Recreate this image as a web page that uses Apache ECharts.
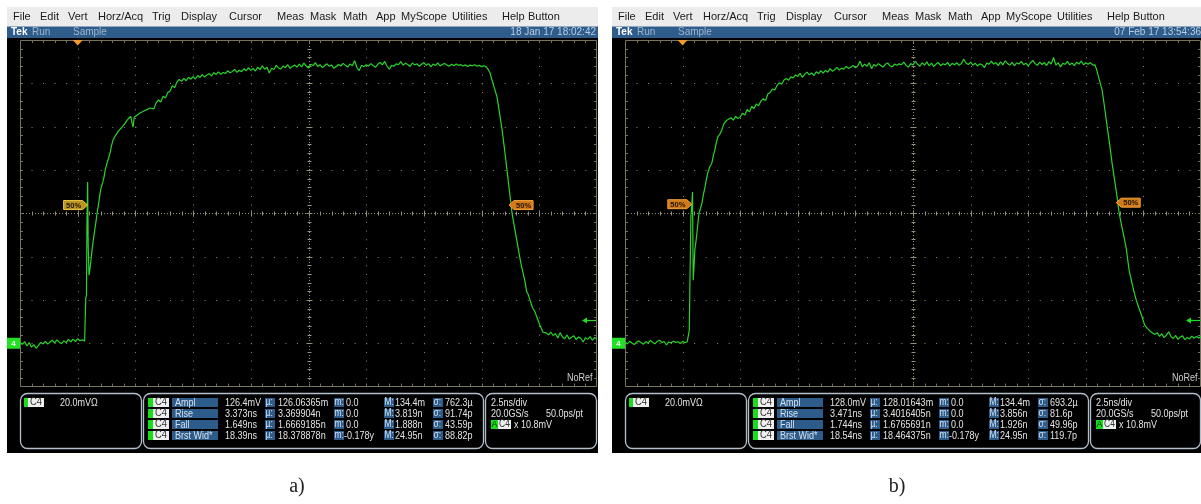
<!DOCTYPE html>
<html><head><meta charset="utf-8">
<script src="https://cdn.jsdelivr.net/npm/echarts@6/dist/echarts.min.js"></script>
<style>html,body{margin:0;padding:0;background:#fff;}#c{width:1201px;height:504px;}</style>
</head><body><div id="c"></div><script>
// ---- scope settings (2.5 ns/div, 20 mV/div, ground at -3 div) ----
const X_MIN = -2.5, X_MAX = 22.5, X_INT = 2.5;   // ns
const Y_MIN = -20, Y_MAX = 140, Y_INT = 20;      // mV
const TRIG_TIME = 0, TRIG_LEVEL = 10.8, GROUND = 0;
const SAMPLE_STEP = 0.1; // ns between listed samples in the flat segments

// ---- panel a) trace (mV) ----
const preA = [0.2,-0.5,0.8,-1.2,0.3,-1.8,-0.6,-2.3,-1.0,0.4,
  -0.3,0.9,-0.4,0.6,1.4,0.2,1.6,0.5,-0.2,1.1,
  0.3,1.8,0.7,1.9,0.8,2.1,1.2,1.6,1.0];                     // from -2.5 ns
const riseA = [[0.33,1.2],[0.35,21],[0.38,22],[0.40,53.6],[0.43,74.4],[0.455,45],[0.49,31.4],[0.52,33.5],[0.57,38],[0.62,43],
  [0.68,48],[0.74,52.5],[0.79,56],[0.84,60],[0.90,64],[0.97,69.3],[1.03,72.5],[1.08,74],[1.14,76.7],[1.20,80.5],
  [1.27,83.2],[1.33,85.2],[1.40,87.8],[1.46,91],[1.53,93.8],[1.60,95.2],[1.68,96.1],[1.75,97.8],[1.83,98.4],[1.90,99.5],
  [1.98,100.2],[2.06,101.6],[2.14,103],[2.22,103.5],[2.30,104.8],[2.36,101.5],[2.40,99.8],[2.45,104.4],[2.52,103.9],[2.60,105.5],
  [2.70,106.3],[2.78,105.6],[2.87,107.2],[2.95,106.8],[3.04,108.1],[3.13,108.6]];
const midA = [109.5,108.2,111.0,112.3,111.4,114.1,113.2,115.8,116.4,118.9,
  118.0,120.6,121.8,120.9,122.3,121.2,122.8,121.9,123.1,122.0,
  123.6,122.7,124.0,122.9,123.8,124.5,123.4,124.9,124.1,125.3,
  124.2,125.0,124.6,125.8,124.9,125.5,126.4,125.1,126.0,125.4,
  126.7,125.8,127.2,126.0,126.9,125.7,127.5,126.3,128.1,126.5,
  127.4,124.8,127.0,126.4,128.3,127.1,126.6,128.0,127.2,128.6,
  126.9,127.8,128.4,127.5];                                    // from 3.2 ns
const topA = [128.9,127.6,129.3,128.0,127.1,128.8,128.2,129.5,127.8,128.6,
  127.3,128.1,129.0,127.9,128.5,126.9,127.8,128.7,128.0,129.2,
  128.3,127.5,128.9,128.1,130.4,127.2,125.9,128.4,127.7,128.6,
  127.9,129.1,128.2,127.4,128.8,129.6,128.5,130.1,128.0,126.5,
  128.3,127.9,129.0,128.6,130.0,128.4,129.3,128.7,127.8,129.4,
  128.5,129.0,127.9,128.8,129.6,128.3,129.1,127.6,128.9,128.2,
  129.4,128.0,128.7,129.2,128.4,127.9,128.8,128.1,128.9,128.3,
  128.6,128.0,128.5,127.8,128.4,128.1,128.6,127.9,128.3,127.7,
  128.1];                                                      // from 9.6 ns
const fallA = [[17.7,127.6],[17.8,126.2],[17.87,124.7],[17.95,121.5],[18.05,118],[18.17,113.6],[18.28,106],[18.39,98.4],[18.5,89],[18.6,79.9],
  [18.71,70],[18.82,60],[18.95,52],[19.08,44.3],[19.2,37],[19.3,32.3],[19.38,28.5],[19.45,24.0],[19.52,22.5],[19.6,19.9],
  [19.7,16.5],[19.8,14.8],[19.9,12.0],[20.0,9.0],[20.08,7.1],[20.16,5.1],[20.22,4.6]];
const postA = [4.8,3.9,5.1,3.6,4.4,2.4,4.9,3.0,2.1,3.8,
  1.9,2.8,3.5,1.7,2.9,2.2,0.6,2.6,1.8,3.1,
  1.4,2.7,2.0];                                                // from 20.3 ns

// ---- panel b) trace (mV) ----
const preB = [0.6,-0.3,0.9,0.1,-0.6,0.5,1.1,0.2,-0.4,0.8,
  0.0,1.3,0.4,-0.2,0.9,1.4,0.3,0.8,-0.8,0.6,
  0.2,1.0,0.4,0.7,-0.1,0.9,0.3,0.6];                          // from -2.5 ns
const riseB = [[0.25,0.4],[0.29,6.0],[0.32,29.1],[0.36,58.2],[0.40,64],[0.43,69.8],[0.46,29.1],[0.50,36],[0.53,43],[0.58,47],
  [0.62,50.8],[0.66,55],[0.71,60],[0.77,62],[0.84,64.7],[0.90,68.5],[0.97,72],[1.03,75.5],[1.10,79],[1.18,81.5],
  [1.27,83.2],[1.33,86.5],[1.40,89.2],[1.46,92.5],[1.53,95.2],[1.62,96.6],[1.70,98.4],[1.80,101.5],[1.92,103]];
const midB = [102.6,104.1,103.0,104.8,103.7,104.5,106.2,105.4,107.9,106.8,
  109.3,108.4,110.5,109.6,111.8,112.9,112.0,115.1,115.8,117.4,
  116.9,119.0,120.3,119.6,121.5,122.2,121.4,123.0,122.5,123.9,
  123.2,124.6,122.8,124.1,125.2,123.9,124.8,123.6,125.3,124.5,
  125.9,124.7,126.0,125.1,126.8,125.6,126.3,127.4,126.1,127.0,
  126.5,127.8,126.9,127.4,128.3,127.2,128.0,130.2,127.6,128.9,
  127.8,129.5,126.8,128.7,127.9,129.1,128.2,127.5,128.8,129.4,
  128.1,127.6,128.9,128.3,129.0];                              // from 2.0 ns
const topB = [128.6,129.8,128.3,127.4,129.1,128.5,130.2,128.8,127.9,129.5,
  128.4,129.9,128.1,129.3,127.7,128.9,129.6,128.2,129.0,128.5,
  129.7,128.0,129.2,128.6,129.5,128.3,129.1,131.2,129.4,128.7,
  129.8,128.4,129.3,128.0,129.0,128.6,127.2,129.4,128.8,130.3,
  128.9,129.6,128.2,129.9,128.5,130.4,129.2,128.4,129.7,128.1,
  129.5,128.9,130.1,128.6,129.3,128.0,129.4,130.6,129.1,128.3,
  129.8,128.7,129.6,128.2,130.0,128.9,131.9,128.4,129.5,127.6,
  129.2,128.8,130.1,128.5,129.4,128.2,129.7,128.9,130.3,128.6,
  129.5,128.8,129.6,128.4];                                    // from 9.5 ns
const fallB = [[17.9,128.5],[17.98,126.0],[18.08,121.9],[18.21,116.9],[18.32,108.5],[18.43,99.8],[18.54,91.5],[18.64,83.2],[18.75,75.3],[18.86,67.5],
  [18.95,60],[19.1,52],[19.25,44.3],[19.38,33.7],[19.5,28.0],[19.6,23.5],[19.69,19.9],[19.8,16.4],[19.95,12.0],[20.05,8.5],
  [20.17,6.9],[20.25,7.6],[20.33,5.2]];
const postB = [5.8,4.1,4.9,3.2,4.4,2.6,3.8,5.3,3.0,2.2,
  3.6,1.8,2.9,3.4,1.6,2.7,2.0,3.3,2.4,3.1,
  2.5,3.0];                                                    // from 20.4 ns

// ---- 50% reference tags [time ns, level mV, side, colour] ----
const tagsA = [[0.43, 63.8, 'left', 'y'], [18.69, 63.8, 'right', 'o']];
const tagsB = [[0.40, 64.2, 'left', 'o'], [18.82, 64.9, 'right', 'o']];

// ---- texts ----
const MENU = ['File','Edit','Vert','Horz/Acq','Trig','Display','Cursor','Meas','Mask','Math','App','MyScope','Utilities','Help','Button'];
const DATES = ['18 Jan 17 18:02:42', '07 Feb 17 13:54:36'];
const MEAS_NAMES = ['Ampl','Rise','Fall','Brst Wid*'];
const MEAS_A = [
  ['126.4mV','126.06365m','0.0','134.4m','762.3µ'],
  ['3.373ns','3.369904n','0.0','3.819n','91.74p'],
  ['1.649ns','1.6669185n','0.0','1.888n','43.59p'],
  ['18.39ns','18.378878n','-0.178y','24.95n','88.82p']];
const MEAS_B = [
  ['128.0mV','128.01643m','0.0','134.4m','693.2µ'],
  ['3.471ns','3.4016405n','0.0','3.856n','81.6p'],
  ['1.744ns','1.6765691n','0.0','1.926n','49.96p'],
  ['18.54ns','18.464375n','-0.178y','24.95n','119.7p']];
const PANEL_LABELS = ['a)', 'b)'];

function seq(t0, vals) { return vals.map((v, i) => [Math.round((t0 + i * SAMPLE_STEP) * 1000) / 1000, v]); }
const traceA = [].concat(seq(-2.5, preA), riseA, seq(3.2, midA), seq(9.6, topA), fallA, seq(20.3, postA));
const traceB = [].concat(seq(-2.5, preB), riseB, seq(2.0, midB), seq(9.5, topB), fallB, seq(20.4, postB));

const FONT = '"Liberation Sans", Arial, sans-serif';
const GREEN = '#2ad42a';

function graticule(params, api) {
  const tl = api.coord([X_MIN, Y_MAX]), br = api.coord([X_MAX, Y_MIN]);
  const L = tl[0], T = tl[1], R = br[0], B = br[1];
  const nx = Math.round((X_MAX - X_MIN) / X_INT), ny = Math.round((Y_MAX - Y_MIN) / Y_INT);
  const dx = (R - L) / nx, dy = (B - T) / ny;
  const ch = [];
  const px = v => Math.round(v) + 0.5;
  const ln = (x1, y1, x2, y2, stroke, dash) => ch.push({type: 'line', shape: {x1, y1, x2, y2},
    style: {stroke, lineWidth: 1, lineDash: dash || null}});
  const DOT = '#8d8a74', EDGE = '#77735d', AXC = '#94907a';
  const cxI = nx / 2, cyI = ny / 2;
  for (let i = 1; i < nx; i++) { if (i === cxI) continue; const x = px(L + i * dx); ln(x, T, x, B, DOT, [1, dy / 5 - 1]); }
  for (let j = 1; j < ny; j++) { if (j === cyI) continue; const y = px(T + j * dy); ln(L, y, R, y, DOT, [1, dx / 5 - 1]); }
  const cx = px(L + cxI * dx), cy = px(T + cyI * dy);
  ln(cx, T, cx, B, AXC, [1, 2]); ln(L, cy, R, cy, AXC, [1, 2]);
  for (let k = 1; k < nx * 5; k++) {
    const x = px(L + k * dx / 5), len = (k % 5 === 0) ? 3 : 2;
    ln(x, cy - len, x, cy + len, AXC); ln(x, T, x, T + 3, EDGE); ln(x, B - 3, x, B, EDGE);
  }
  for (let k = 1; k < ny * 5; k++) {
    const y = px(T + k * dy / 5), len = (k % 5 === 0) ? 3 : 2;
    ln(cx - len, y, cx + len, y, AXC); ln(L, y, L + 3, y, EDGE); ln(R - 3, y, R, y, EDGE);
  }
  ch.push({type: 'rect', shape: {x: px(L), y: px(T), width: Math.round(R - L) - 1, height: Math.round(B - T) - 1},
    style: {fill: 'none', stroke: EDGE, lineWidth: 1}});
  return {type: 'group', children: ch};
}

function overlay(tags) {
  return function (params, api) {
    const tl = api.coord([X_MIN, Y_MAX]), br = api.coord([X_MAX, Y_MIN]);
    const L = tl[0], T = tl[1], R = br[0];
    const ch = [];
    const tx = api.coord([TRIG_TIME, Y_MAX])[0];
    ch.push({type: 'polygon', shape: {points: [[tx - 5, T], [tx + 5, T], [tx, T + 5.5]]}, style: {fill: '#f29a2e'}});
    const gy = api.coord([X_MIN, GROUND])[1];
    ch.push({type: 'rect', shape: {x: L - 13, y: gy - 5.5, width: 13, height: 11}, style: {fill: '#22e022'}});
    ch.push({type: 'text', style: {text: '4', x: L - 6.5, y: gy + 0.5, fill: '#f4fff4', font: 'bold 8px ' + FONT,
      textAlign: 'center', textVerticalAlign: 'middle', align: 'center', verticalAlign: 'middle'}});
    const ty = Math.round(api.coord([X_MAX, TRIG_LEVEL])[1]) + 0.5;
    ch.push({type: 'line', shape: {x1: R - 12, y1: ty, x2: R - 1, y2: ty}, style: {stroke: '#22dd22', lineWidth: 1.2}});
    ch.push({type: 'polygon', shape: {points: [[R - 15, ty], [R - 10, ty - 3], [R - 10, ty + 3]]}, style: {fill: '#22dd22'}});
    tags.forEach(([t, v, side, col]) => {
      const p = api.coord([t, v]); const x = p[0], y = p[1];
      const pts = side === 'left'
        ? [[x - 24, y - 4.5], [x - 5, y - 4.5], [x, y], [x - 5, y + 4.5], [x - 24, y + 4.5]]
        : [[x, y], [x + 5, y - 4.5], [x + 24, y - 4.5], [x + 24, y + 4.5], [x + 5, y + 4.5]];
      const fill = col === 'y' ? '#b89420' : '#d07a18', stroke = col === 'y' ? '#f0c848' : '#f5a040';
      ch.push({type: 'polygon', shape: {points: pts}, style: {fill, stroke, lineWidth: 1}});
      ch.push({type: 'text', style: {text: '50%', x: side === 'left' ? x - 14 : x + 14.5, y: y + 0.5,
        fill: '#241400', font: 'bold 7.5px ' + FONT, textAlign: 'center', textVerticalAlign: 'middle', align: 'center', verticalAlign: 'middle'}});
    });
    return {type: 'group', children: ch};
  };
}

// text helper; sx = horizontal squeeze (readout uses a narrow font on the scope)
const Tx = (text, x, y, o = {}) => ({type: 'text', z: 20, silent: true, x, y, scaleX: o.sx || 1,
  style: {text, x: 0, y: 0, fill: o.fill || '#e4e4e4', font: o.font || ('10.5px ' + FONT),
    textAlign: o.align || 'left', textVerticalAlign: 'middle'}});
const Rc = (x, y, w, h, fill, o = {}) => ({type: 'rect', z: o.z === undefined ? 15 : o.z, silent: true,
  shape: {x, y, width: w, height: h, r: o.r || 0}, style: {fill, stroke: o.stroke || null, lineWidth: o.lw || 1}});

const RO = {font: '11px ' + FONT, sx: 0.82};
const MENU_X = [13, 40, 68, 98, 152, 181, 229, 277, 310, 343, 376, 401, 452, 502, 528];
function chrome(ox, w, date, meas) {
  const els = [];
  els.push(Rc(ox + 7, 38, w, 415, '#000', {z: -5}));
  els.push(Rc(ox + 7, 7, w, 19.5, '#ececec', {z: -5}));
  els.push(Rc(ox + 7, 26.5, w, 11.5, '#2e5d8b', {z: -5}));
  MENU.forEach((m, i) => els.push(Tx(m, ox + MENU_X[i], 17, {fill: '#1a1a1a', font: '11px ' + FONT})));
  els.push(Tx('Tek', ox + 11, 32.5, {fill: '#ffffff', font: 'bold 10px ' + FONT}));
  els.push(Tx('Run', ox + 32, 32.5, {fill: '#9db4cb', font: '10px ' + FONT}));
  els.push(Tx('Sample', ox + 73, 32.5, {fill: '#9db4cb', font: '10px ' + FONT}));
  els.push(Tx(date, ox + 596, 32.5, {fill: '#b8cce0', font: '10px ' + FONT, align: 'right'}));
  // readout boxes
  const bs = {stroke: '#b4bfcc', lw: 1.3, r: 7, z: 12};
  els.push(Rc(ox + 20.5, 393.5, 121, 55, 'none', bs));
  els.push(Rc(ox + 143.5, 393.5, 340, 55, 'none', bs));
  els.push(Rc(ox + 485.5, 393.5, ox ? 110 : 111, 55, 'none', bs));
  const rows = [402.5, 413.5, 424.5, 435.5];
  // box 1
  els.push(Rc(ox + 24, rows[0] - 4.5, 4, 9, '#18e018'));
  els.push(Rc(ox + 28, rows[0] - 4.5, 16, 9, '#efefef'));
  els.push(Tx('C4', ox + 30, rows[0], {fill: '#333', font: '10.5px ' + FONT, sx: 0.9}));
  els.push(Tx('20.0mVΩ', ox + 60, rows[0], RO));
  // box 2
  const tagX = [[265, 'µ:'], [334, 'm:'], [384, 'M:'], [433, 'σ:']];
  const valX = [225, 278, 346, 395, 445];
  MEAS_NAMES.forEach((nm, r) => {
    const y = rows[r];
    els.push(Rc(ox + 148, y - 4.5, 5, 9, '#18e018'));
    els.push(Rc(ox + 153, y - 4.5, 16, 9, '#efefef'));
    els.push(Tx('C4', ox + 155, y, {fill: '#333', font: '10.5px ' + FONT, sx: 0.9}));
    els.push(Rc(ox + 172, y - 4.5, 46, 9, '#2d5b8a'));
    els.push(Tx(nm, ox + 175, y, {fill: '#d4e0ec', font: RO.font, sx: RO.sx}));
    tagX.forEach(([tx, lab]) => {
      els.push(Rc(ox + tx, y - 4.5, 10, 9, '#2d5b8a'));
      els.push(Tx(lab, ox + tx + 0.5, y, {fill: '#cfe0f2', font: '10px ' + FONT, sx: 0.85}));
    });
    meas[r].forEach((v, k) => {
      let x = valX[k];
      if (k === 2 && v.charAt(0) === '-') x = 344;
      els.push(Tx(v, ox + x, y, RO));
    });
  });
  // box 3
  els.push(Tx('2.5ns/div', ox + 491, rows[0], RO));
  els.push(Tx('20.0GS/s', ox + 491, rows[1], RO));
  els.push(Tx('50.0ps/pt', ox + 546, rows[1], RO));
  els.push(Rc(ox + 491, rows[2] - 4.5, 7, 9, '#18e018'));
  els.push(Tx('A', ox + 491.5, rows[2], {fill: '#0b2a0b', font: '9px ' + FONT}));
  els.push(Rc(ox + 498, rows[2] - 4.5, 13, 9, '#efefef'));
  els.push(Tx('C4', ox + 499, rows[2], {fill: '#333', font: '10px ' + FONT, sx: 0.85}));
  els.push(Tx('x 10.8mV', ox + 514, rows[2], RO));
  els.push(Tx('NoRef', ox + 567, 378, {fill: '#cfcfcf', font: '10px ' + FONT, sx: 0.9}));
  return els;
}

const graphics = [].concat(
  chrome(0, 591, DATES[0], MEAS_A),
  chrome(605, 590, DATES[1], MEAS_B),
  [Tx(PANEL_LABELS[0], 297, 487, {fill: '#222', font: '20px "Liberation Serif", serif', align: 'center'}),
   Tx(PANEL_LABELS[1], 897, 487, {fill: '#222', font: '20px "Liberation Serif", serif', align: 'center'})]
);

const chart = echarts.init(document.getElementById('c'), null, {renderer: 'canvas'});
const axisBase = {type: 'value', show: false};
chart.setOption({
  animation: false,
  backgroundColor: '#ffffff',
  grid: [
    {left: 20, top: 40, width: 577, height: 346.6},
    {left: 625, top: 40, width: 577, height: 346.6}
  ],
  xAxis: [0, 1].map(i => Object.assign({}, axisBase, {gridIndex: i, min: X_MIN, max: X_MAX, interval: X_INT})),
  yAxis: [0, 1].map(i => Object.assign({}, axisBase, {gridIndex: i, min: Y_MIN, max: Y_MAX, interval: Y_INT})),
  graphic: {elements: graphics},
  series: [
    {type: 'custom', xAxisIndex: 0, yAxisIndex: 0, data: [[0, 0]], renderItem: graticule, silent: true, z: 1, clip: false},
    {type: 'custom', xAxisIndex: 1, yAxisIndex: 1, data: [[0, 0]], renderItem: graticule, silent: true, z: 1, clip: false},
    {type: 'line', xAxisIndex: 0, yAxisIndex: 0, data: traceA, showSymbol: false, symbol: 'none', z: 3, clip: true,
      lineStyle: {color: GREEN, width: 1.2}},
    {type: 'line', xAxisIndex: 1, yAxisIndex: 1, data: traceB, showSymbol: false, symbol: 'none', z: 3, clip: true,
      lineStyle: {color: GREEN, width: 1.2}},
    {type: 'custom', xAxisIndex: 0, yAxisIndex: 0, data: [[0, 0]], renderItem: overlay(tagsA), silent: true, z: 4, clip: false},
    {type: 'custom', xAxisIndex: 1, yAxisIndex: 1, data: [[0, 0]], renderItem: overlay(tagsB), silent: true, z: 4, clip: false}
  ]
});
</script></body></html>
